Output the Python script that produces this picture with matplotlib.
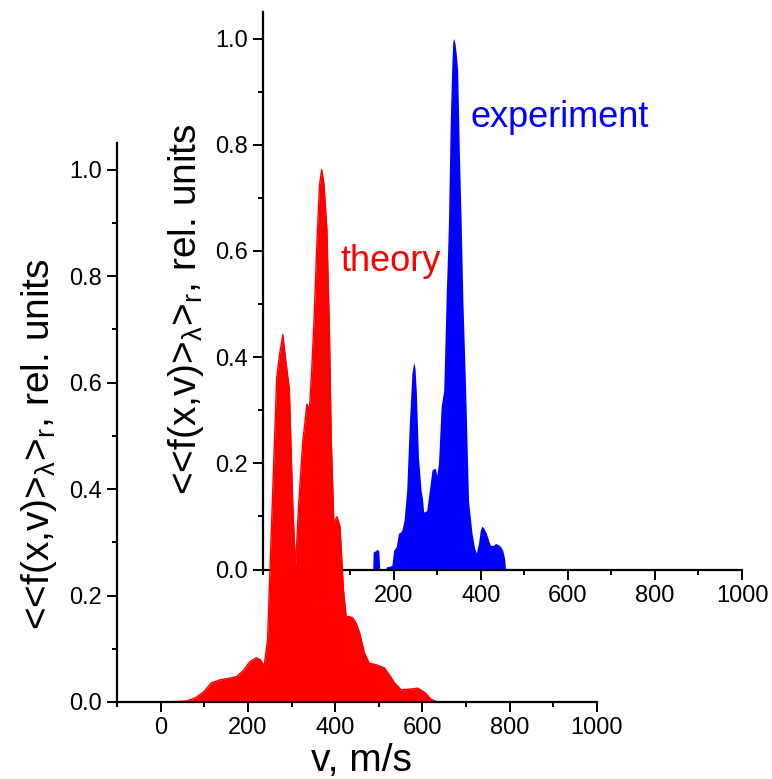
import numpy as np
import matplotlib
matplotlib.use('Agg')
import matplotlib.pyplot as plt
from matplotlib.ticker import MultipleLocator

plt.rcParams['font.family'] = ['Liberation Sans', 'DejaVu Sans']
plt.rcParams['mathtext.default'] = 'regular'

# theory curve (main axes)
v_theory = [-100, 0, 40, 60, 80, 100, 116, 138, 160, 175, 190, 205, 219, 229, 237,
            245, 253, 261, 266, 272, 280, 287, 295, 299, 303, 309, 316, 322, 326,
            330, 335, 338, 341, 346, 352, 358, 364, 369, 374, 381, 384, 387, 391,
            397, 404, 411, 419, 425, 433, 440, 448, 456, 467, 478, 494, 513, 525,
            536, 551, 570, 589, 605, 620, 635, 1000]
f_theory = [0, 0, 0.001, 0.002, 0.008, 0.02, 0.036, 0.042, 0.045, 0.048, 0.06, 0.076,
            0.083, 0.079, 0.067, 0.117, 0.305, 0.493, 0.609, 0.65, 0.69, 0.64, 0.587,
            0.474, 0.368, 0.252, 0.368, 0.443, 0.493, 0.52, 0.559, 0.555, 0.55, 0.62,
            0.725, 0.86, 0.97, 1.0, 0.975, 0.888, 0.788, 0.69, 0.493, 0.336, 0.348,
            0.33, 0.211, 0.161, 0.16, 0.158, 0.148, 0.13, 0.092, 0.073, 0.07, 0.064,
            0.05, 0.036, 0.023, 0.024, 0.026, 0.018, 0.005, 0, 0]

# experiment curve (inset axes)
v_exp = [152, 153, 158, 162, 166, 168, 182, 183, 190, 196, 200, 206, 211, 215, 219,
         224, 230, 236, 242, 246, 249, 252, 257, 263, 266, 269, 276, 282, 288, 292,
         296, 299, 303, 309, 315, 321, 324, 326, 330, 334, 336, 338, 341, 344, 347,
         351, 355, 359, 365, 368, 372, 380, 386, 390, 395, 399, 403, 407, 413, 418,
         422, 428, 434, 440, 446, 451, 455, 457]
f_exp = [0, 0.033, 0.035, 0.038, 0.035, 0, 0, 0.005, 0.006, 0.008, 0.036, 0.043,
         0.068, 0.07, 0.074, 0.093, 0.149, 0.275, 0.369, 0.39, 0.38, 0.337, 0.212,
         0.149, 0.135, 0.108, 0.111, 0.149, 0.187, 0.19, 0.19, 0.177, 0.2, 0.306,
         0.337, 0.525, 0.6, 0.657, 0.845, 0.96, 0.995, 1.0, 0.99, 0.97, 0.94, 0.783,
         0.657, 0.507, 0.35, 0.256, 0.13, 0.068, 0.04, 0.031, 0.05, 0.074, 0.082,
         0.078, 0.068, 0.055, 0.046, 0.045, 0.049, 0.047, 0.043, 0.035, 0.02, 0]

ylab = r'<<f(x,v)>$_{λ}$>$_{r}$, rel. units'


def style(ax):
    ax.set_xlim(-100, 1000)
    ax.set_ylim(0, 1.05)
    ax.xaxis.set_major_locator(MultipleLocator(200))
    ax.xaxis.set_minor_locator(MultipleLocator(100))
    ax.yaxis.set_major_locator(MultipleLocator(0.2))
    ax.yaxis.set_minor_locator(MultipleLocator(0.1))
    ax.yaxis.set_major_formatter(matplotlib.ticker.FormatStrFormatter('%.1f'))
    ax.spines['top'].set_visible(False)
    ax.spines['right'].set_visible(False)
    for s in ['left', 'bottom']:
        ax.spines[s].set_linewidth(1.6)
    ax.tick_params(which='major', direction='out', length=7, width=1.4,
                   labelsize=17, pad=4)
    ax.tick_params(which='minor', direction='out', length=3.6, width=1.4)


fig = plt.figure(figsize=(7.72, 7.79), dpi=100)

# inset (experiment), drawn first so the main red fill covers it
ax2 = fig.add_axes([263/772, 1 - 569.5/779, 479/772, 557.5/779])
ax2.set_facecolor('none')
ax2.fill_between(v_exp, f_exp, 0, color='#0000FF', lw=0)
style(ax2)
ax2.set_ylabel(ylab, fontsize=28)
ax2.yaxis.set_label_coords(-0.118, 0.467)
ax2.text(376, 0.834, 'experiment', color='#0000FF', fontsize=26,
         ha='left', va='baseline')

# main axes (theory)
ax1 = fig.add_axes([117/772, 1 - 702/779, 480/772, 559/779])
ax1.set_facecolor('none')
ax1.fill_between(v_theory, f_theory, 0, color='#FF0000', lw=0)
ax1.plot(v_theory, f_theory, color='#FF0000', lw=1)
style(ax1)
ax1.set_ylabel(ylab, fontsize=28)
ax1.yaxis.set_label_coords(-0.12, 0.4615)
ax1.set_xlabel('v, m/s', fontsize=28)
ax1.xaxis.set_label_coords(0.51, -0.074)
ax1.text(412, 0.809, 'theory', color='#FF0000', fontsize=26,
         ha='left', va='baseline')

plt.savefig('out.png', dpi=100)
